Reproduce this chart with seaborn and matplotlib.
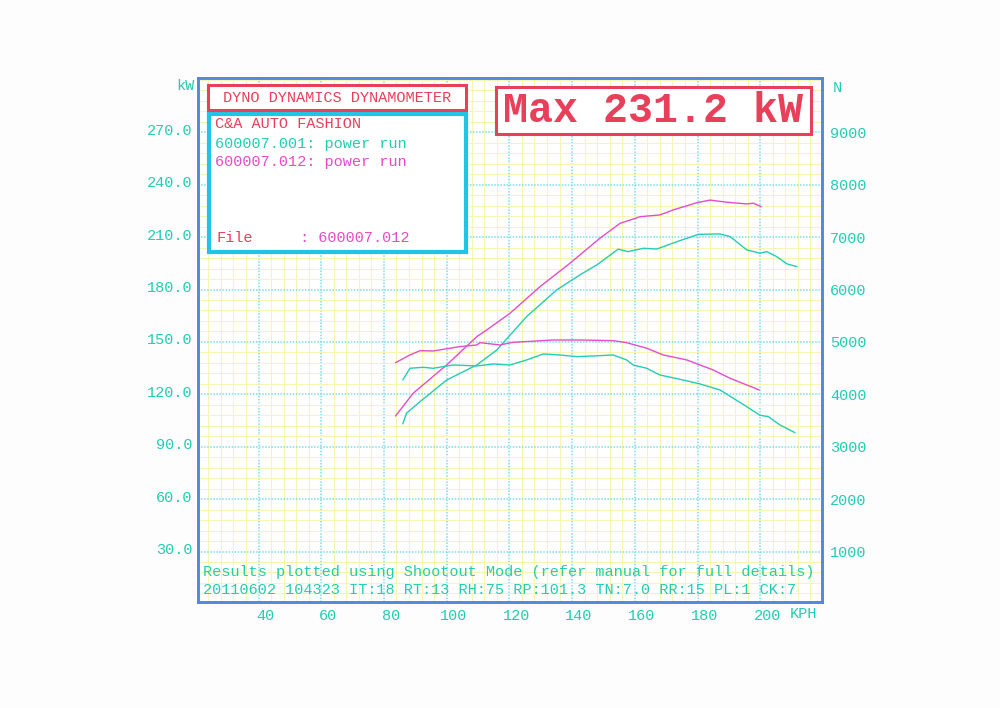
import matplotlib
matplotlib.use("Agg")
import matplotlib.pyplot as plt
import seaborn as sns
import pandas as pd
from matplotlib.patches import Rectangle
from matplotlib.ticker import MultipleLocator
from matplotlib.transforms import ScaledTranslation

# power runs (kW vs KPH)
speed_pw_001 = [86.0, 87.2, 91.5, 100.0, 109.6, 116.0, 125.5, 135.1, 142.5, 147.9, 154.7, 157.9,
                162.7, 167.0, 174.4, 180.3, 187.2, 190.4, 195.7, 199.9, 202.1, 205.3, 208.5, 211.7]
power_001 = [103.1, 109.2, 115.8, 128.2, 136.8, 145.4, 164.5, 179.8, 188.4, 194.1, 203.1, 201.7,
             203.6, 203.2, 208.0, 211.6, 211.8, 210.3, 202.7, 200.8, 201.7, 198.8, 194.7, 193.1]

speed_pw_012 = [83.7, 89.3, 100.0, 109.6, 112.8, 120.2, 129.8, 139.3, 148.9, 155.3, 161.7, 168.0,
                172.3, 179.8, 184.0, 189.3, 195.7, 197.8, 200.3]
power_012 = [107.6, 120.6, 136.8, 153.0, 156.9, 166.4, 181.7, 195.0, 209.4, 217.9, 221.7, 222.7,
             225.6, 229.7, 231.2, 230.0, 229.0, 229.4, 227.5]

# tractive force (N vs KPH)
speed_f_001 = [86.0, 88.3, 92.5, 95.7, 102.1, 109.6, 114.9, 120.2, 125.5, 130.8, 136.1, 141.5, 146.8,
               153.1, 157.4, 159.5, 163.8, 168.0, 174.4, 180.8, 187.2, 191.4, 195.7, 199.9, 202.6,
               206.3, 211.1]
force_001 = [4274, 4497, 4516, 4497, 4560, 4541, 4579, 4560, 4656, 4770, 4751, 4719, 4732,
             4751, 4656, 4560, 4497, 4369, 4287, 4198, 4083, 3925, 3765, 3600, 3574, 3415, 3268]

speed_f_012 = [83.7, 88.3, 91.5, 95.7, 104.2, 109.6, 110.6, 117.0, 121.2, 128.7, 134.0, 142.5,
               153.1, 157.4, 163.8, 169.1, 176.6, 180.8, 185.0, 190.4, 195.7, 199.7]
force_012 = [4604, 4751, 4833, 4827, 4910, 4942, 4986, 4942, 4993, 5018, 5037, 5037,
             5024, 4986, 4879, 4751, 4656, 4560, 4465, 4306, 4179, 4083]

kw_ticks = [30, 60, 90, 120, 150, 180, 210, 240, 270]
n_ticks = [1000, 2000, 3000, 4000, 5000, 6000, 7000, 8000, 9000]
kph_ticks = [40, 60, 80, 100, 120, 140, 160, 180, 200]

TEAL = "#22cdb4"
MAG = "#e64cc8"
RED = "#e8405a"
BOXCYAN = "#22c4e6"
FRAME = "#4f86e0"

sns.set_style("white")
plt.rcParams["font.family"] = ["Liberation Mono", "DejaVu Sans Mono"]

fig = plt.figure(figsize=(10, 7.08), dpi=100)
fig.patch.set_facecolor("#fdfdfd")


def fp(x, y):
    return x / 1000, 1 - y / 708


ax = fig.add_axes([0.198, 1 - 602 / 708, 0.624, (602 - 78) / 708])
ax.set_xlim(20.7, 219.7)
ax.set_ylim(1.1, 301.1)

ax.xaxis.set_minor_locator(MultipleLocator(4))
ax.yaxis.set_minor_locator(MultipleLocator(6))
ax.set_xticks(kph_ticks, [str(t) for t in kph_ticks])
ax.set_yticks(kw_ticks, [f"{t:.1f}" for t in kw_ticks])
ax.grid(which="minor", color="#f8f4b4", lw=0.8, ls="-")
ax.grid(which="major", color="#7cdcec", lw=1.1, ls=(0, (1, 1)))
ax.set_axisbelow(True)
ax.tick_params(which="both", length=0)
ax.tick_params(axis="y", colors=TEAL, labelsize=11, pad=4)
ax.tick_params(axis="x", colors=TEAL, labelsize=11, pad=5)
for lbl in ax.get_xticklabels():
    lbl.set_transform(lbl.get_transform() + ScaledTranslation(7 / 100, 0, fig.dpi_scale_trans))
for lbl in ax.get_yticklabels():
    lbl.set_transform(lbl.get_transform() + ScaledTranslation(0, 3 / 100, fig.dpi_scale_trans))
for s in ax.spines.values():
    s.set_color(FRAME)
    s.set_linewidth(1.8)

pw = pd.concat([
    pd.DataFrame({"kph": speed_pw_001, "kW": power_001, "run": "001"}),
    pd.DataFrame({"kph": speed_pw_012, "kW": power_012, "run": "012"}),
])
sns.lineplot(data=pw, x="kph", y="kW", hue="run", palette={"001": TEAL, "012": MAG},
             lw=1.0, legend=False, ax=ax, estimator=None, sort=False)

ax2 = ax.twinx()
ax2.set_ylim(1.1 * 1000 / 30, 301.1 * 1000 / 30)
fr = pd.concat([
    pd.DataFrame({"kph": speed_f_001, "N": force_001, "run": "001"}),
    pd.DataFrame({"kph": speed_f_012, "N": force_012, "run": "012"}),
])
sns.lineplot(data=fr, x="kph", y="N", hue="run", palette={"001": TEAL, "012": MAG},
             lw=1.0, legend=False, ax=ax2, estimator=None, sort=False)
ax2.set_yticks(n_ticks, [str(t) for t in n_ticks])
ax2.tick_params(length=0, colors=TEAL, labelsize=11, pad=6)
ax2.grid(False)
ax2.set_xlabel("")
ax2.set_ylabel("")
ax.set_xlabel("")
ax.set_ylabel("")
for s in ax2.spines.values():
    s.set_color(FRAME)
    s.set_linewidth(1.8)

# header boxes
def box(x0, y0, x1, y1, color, lw):
    fx, fy = fp(x0, y1)
    fig.add_artist(Rectangle((fx, fy), (x1 - x0) / 1000, (y1 - y0) / 708, transform=fig.transFigure,
                             facecolor="white", edgecolor=color, lw=lw, zorder=5))


box(208, 85, 466, 110, RED, 2.2)
box(209, 114, 466, 252, BOXCYAN, 3.0)
box(496, 87, 811, 134, RED, 2.2)

fig.text(*fp(337, 98), "DYNO DYNAMICS DYNAMOMETER", color=RED, fontsize=11, ha="center", va="center", zorder=6)
fig.text(*fp(215, 124), "C&A AUTO FASHION", color=RED, fontsize=11, ha="left", va="center", zorder=6)
fig.text(*fp(215, 144), "600007.001: power run", color=TEAL, fontsize=11, ha="left", va="center", zorder=6)
fig.text(*fp(215, 162), "600007.012: power run", color=MAG, fontsize=11, ha="left", va="center", zorder=6)
fig.text(*fp(217, 238), "File", color=RED, fontsize=11, ha="left", va="center", zorder=6)
fig.text(*fp(300, 238), ": 600007.012", color=MAG, fontsize=11, ha="left", va="center", zorder=6)
fig.text(*fp(653, 111), "Max 231.2 kW", color=RED, fontsize=30, fontweight="bold",
         ha="center", va="center", zorder=6)

fig.text(*fp(195, 86), "kW", color=TEAL, fontsize=11, ha="right", va="center")
fig.text(*fp(833, 88), "N", color=TEAL, fontsize=11, ha="left", va="center")
fig.text(*fp(790, 614), "KPH", color=TEAL, fontsize=11, ha="left", va="center")

fig.text(*fp(203, 572), "Results plotted using Shootout Mode (refer manual for full details)",
         color=TEAL, fontsize=10.95, ha="left", va="center", zorder=6)
fig.text(*fp(203, 590), "20110602 104323 IT:18 RT:13 RH:75 RP:101.3 TN:7.0 RR:15 PL:1 CK:7",
         color=TEAL, fontsize=10.95, ha="left", va="center", zorder=6)

fig.savefig("out.png", dpi=100, facecolor=fig.get_facecolor())
